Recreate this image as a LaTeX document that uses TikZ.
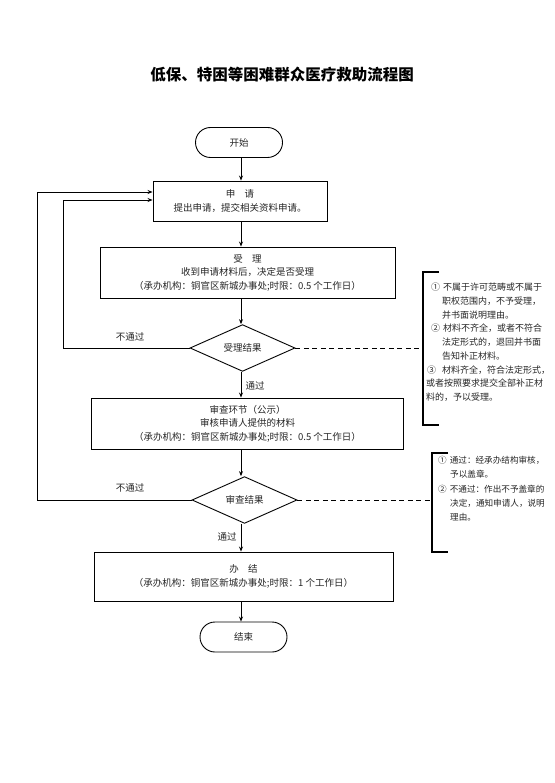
\documentclass[tikz,border=0pt]{standalone}
\usepackage{fontspec}
\setmainfont{Noto Sans CJK SC}
\usetikzlibrary{shapes.geometric,shapes.misc,arrows.meta}
\begin{document}
\begin{tikzpicture}[x=1pt,y=-1pt,
  font=\fontsize{9.5}{13.5}\selectfont,
  every node/.style={text=black!85},
  box/.style={draw=black, line width=0.9pt, align=center, inner sep=0pt},
  term/.style={draw=black, rounded rectangle, line width=0.9pt, minimum width=87pt, minimum height=30pt, inner sep=0pt},
  dec/.style={draw=black, diamond, line width=0.9pt, minimum width=105pt, minimum height=44pt, inner sep=0pt},
  arr/.style={-{Stealth[length=5pt,width=4pt]}, line width=0.8pt},
  dashline/.style={dash pattern=on 5pt off 3.5pt, line width=0.8pt},
  brk/.style={line width=1.3pt},
  note/.style={align=left, anchor=north west, inner sep=0pt},
  lab/.style={font=\fontsize{9.5}{11}\selectfont}
]
\useasboundingbox[fill=white] (0,0) rectangle (554,783);

\node[font=\bfseries\fontsize{15.5}{18}\selectfont, text=black] (title) at (282,75) {低保、特困等困难群众医疗救助流程图};

\coordinate (col) at (241,0);

\node[term] (start) at (239,142.5) {开始};
\node[box, minimum width=174pt, minimum height=40pt] (apply) at (240,201)
  {申\quad 请\\提出申请，提交相关资料申请。};
\node[box, minimum width=295pt, minimum height=51pt] (accept) at (247.5,272.5)
  {受\quad 理\\收到申请材料后，决定是否受理\\（承办机构：铜官区新城办事处;时限：0.5 个工作日）};
\node[dec] (d1) at (242.5,348) {受理结果};
\node[box, minimum width=312pt, minimum height=51pt] (review) at (247.5,423.5)
  {审查环节（公示）\\审核申请人提供的材料\\（承办机构：铜官区新城办事处;时限：0.5 个工作日）};
\node[dec] (d2) at (244.5,500) {审查结果};
\node[box, minimum width=299pt, minimum height=49pt] (finish) at (243.5,576.5)
  {办\quad 结\\（承办机构：铜官区新城办事处;时限：1 个工作日）};
\node[term] (end) at (243.5,637) {结束};

% main flow
\draw[arr] (col |- start.south) -- (col |- apply.north);
\draw[arr] (col |- apply.south) -- (col |- accept.north);
\draw[arr] (col |- accept.south) -- (col |- d1.north);
\draw[arr] (col |- d1.south) -- (col |- review.north);
\draw[arr] (col |- review.south) -- (col |- d2.north);
\draw[arr] (col |- d2.south) -- (col |- finish.north);
\draw[arr] (col |- finish.south) -- (col |- end.north);

% labels
\node[lab] (p1) at (255,386) {通过};
\node[lab] (p2) at (227,537) {通过};
\node[lab] (n1) at (130,337) {不通过};
\node[lab] (n2) at (130,488) {不通过};

% feedback
\coordinate (fb1) at (63,348);
\coordinate (fb2) at (37,500);
\draw[arr] (d1.west) -- (fb1) |- ([yshift=1pt]apply.west);
\draw[arr] (d2.west) -- (fb2) |- ([yshift=9pt]apply.west);

% brackets
\coordinate (b1) at (423,348);
\coordinate (b2) at (432,500);
\draw[dashline] (d1.east) -- (b1);
\draw[dashline] (d2.east) -- (b2);
\draw[brk] (439,272) -- (423,272) -- (423,425) -- (439,425);
\draw[brk] (448,453) -- (432,453) -- (432,552) -- (448,552);

\node[note, font=\fontsize{9}{13.75}\selectfont] (t1) at (426,282.7)
  {\hspace*{5pt}①\hspace{3pt}不属于许可范畴或不属于\\
   \hspace*{16pt}职权范围内，不予受理，\\
   \hspace*{16pt}并书面说明理由。\\
   \hspace*{5pt}②\hspace{3pt}材料不齐全，或者不符合\\
   \hspace*{16pt}法定形式的，退回并书面\\
   \hspace*{16pt}告知补正材料。\\
   \hspace*{1pt}③\hspace{6pt}材料齐全，符合法定形式，\\
   或者按照要求提交全部补正材\\
   料的，予以受理。};
\node[note, font=\fontsize{8.6}{14.3}\selectfont] (t2) at (438,456)
  {①\hspace{3pt}通过：经承办结构审核，\\
   \hspace*{12pt}予以盖章。\\
   ②\hspace{3pt}不通过：作出不予盖章的\\
   \hspace*{12pt}决定，通知申请人，说明\\
   \hspace*{12pt}理由。};
\end{tikzpicture}
\end{document}
